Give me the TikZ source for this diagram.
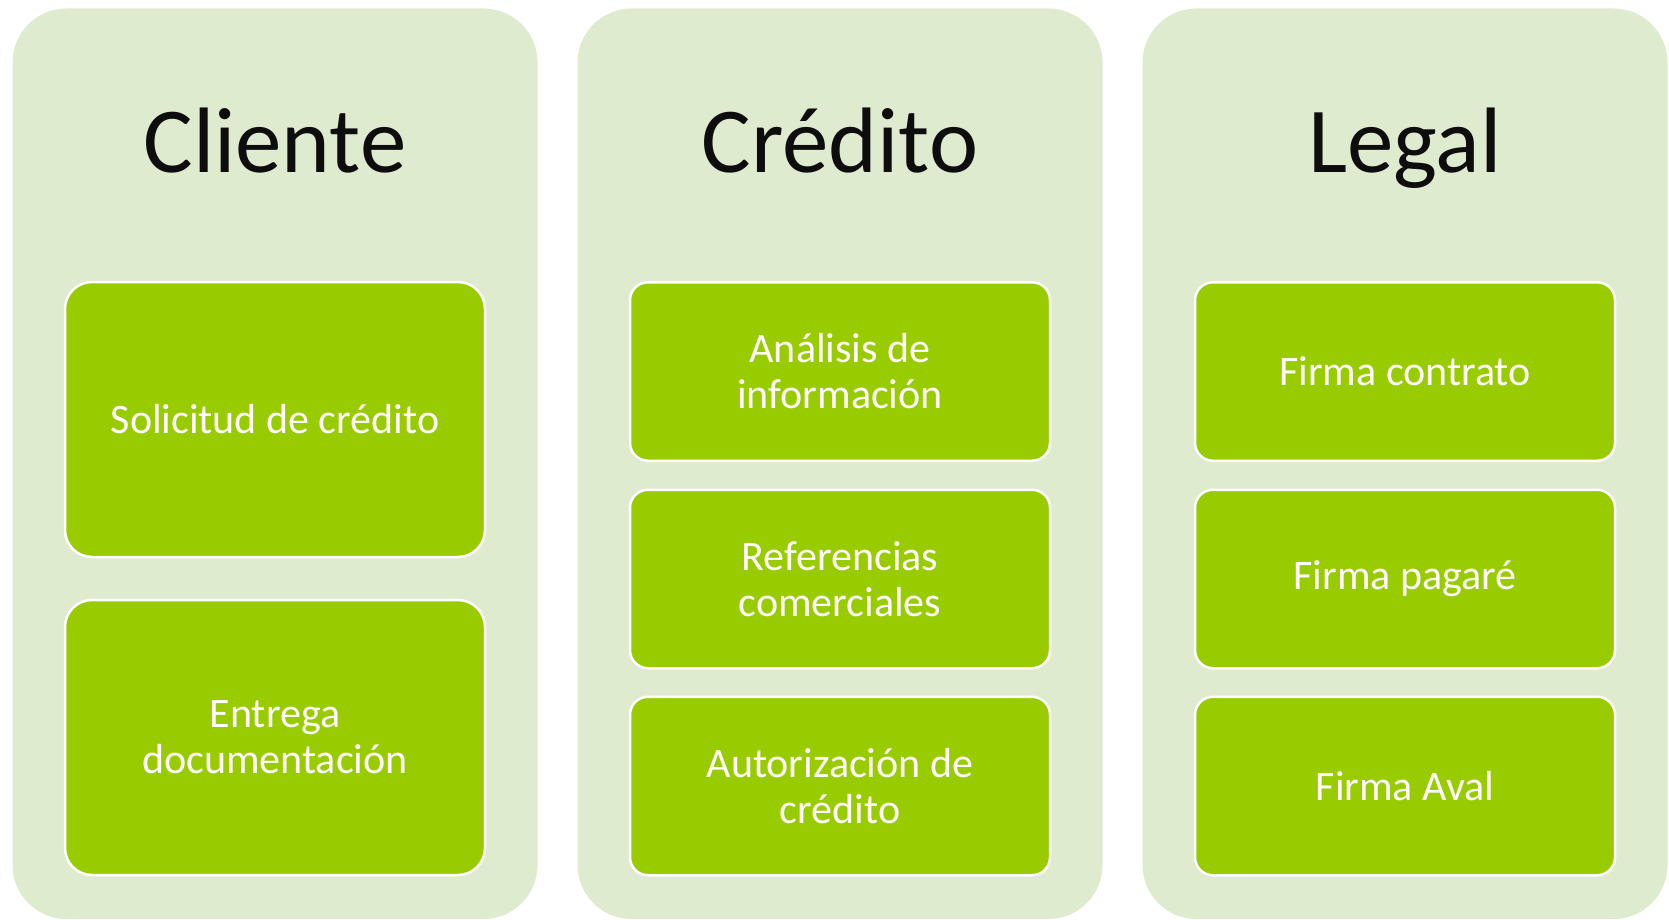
\documentclass[tikz,border=0pt]{standalone}
\usepackage{fontspec}
\setmainfont{Carlito}
\definecolor{lanebg}{HTML}{DFEBCF}
\definecolor{stepgreen}{HTML}{99CC00}
\definecolor{titlecol}{HTML}{0D0D0D}
\tikzset{
  lane/.style={fill=lanebg, draw=none, rounded corners=54pt, inner sep=0pt, outer sep=0pt,
    minimum width=525pt, minimum height=910.5pt},
  lanetitle/.style={font=\fontsize{93}{100}\selectfont, text=titlecol, anchor=base, inner sep=0pt},
  stepbox/.style={fill=stepgreen, draw=white, line width=2.5pt, text=white,
    font=\fontsize{42}{46}\selectfont, align=center, inner sep=0pt, outer sep=0pt,
    minimum width=420pt},
  bigbox/.style={stepbox, rounded corners=27pt, minimum height=275pt},
  smallbox/.style={stepbox, rounded corners=18pt, minimum height=178.5pt},
}
\begin{document}
\begin{tikzpicture}[x=1pt,y=-1pt]
\useasboundingbox (0,0) rectangle (1669,920);
% lanes
\node[lane] (laneA) at (275,463.75) {};
\node[lane] (laneB) at (840,463.75) {};
\node[lane] (laneC) at (1405,463.75) {};
% titles
\node[lanetitle] (titleA) at (275,173) {Cliente};
\node[lanetitle] (titleB) at (840,173) {Crédito};
\node[lanetitle] (titleC) at (1405,173) {Legal};
% Cliente steps
\node[bigbox] (a1) at (275,419.5) {Solicitud de crédito};
\node[bigbox] (a2) at (275,737.5) {Entrega\\documentación};
% Crédito steps
\node[smallbox] (b1) at (840,371.5) {Análisis de\\información};
\node[smallbox] (b2) at (840,579) {Referencias\\comerciales};
\node[smallbox] (b3) at (840,786) {Autorización de\\crédito};
% Legal steps
\node[smallbox] (c1) at (1405,371.5) {Firma contrato};
\node[smallbox] (c2) at (1405,579) {Firma pagaré};
\node[smallbox] (c3) at (1405,786) {Firma Aval};
\end{tikzpicture}
\end{document}
